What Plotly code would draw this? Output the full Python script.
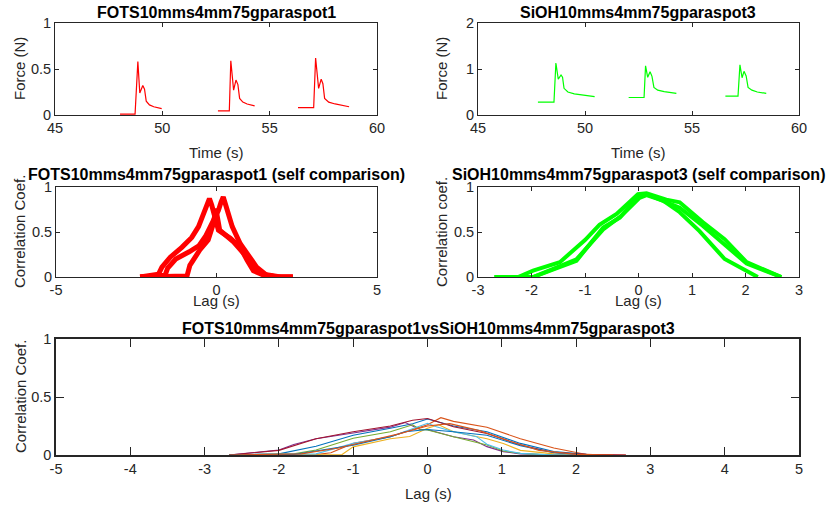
import plotly.graph_objects as go

W, H = 834, 510
FONT = "Liberation Sans, Arial, Helvetica, sans-serif"
TXT = "#262626"

# ---------------- data ----------------
# Top-left: FOTS force traces (three touches)
fots_t1 = [48.03, 48.73, 48.86, 48.95, 49.09, 49.17, 49.25, 49.40, 49.60, 49.80, 49.97]
fots_f1 = [0.01, 0.01, 0.58, 0.24, 0.32, 0.28, 0.15, 0.11, 0.09, 0.08, 0.07]
fots_t2 = [52.59, 53.12, 53.19, 53.32, 53.43, 53.52, 53.60, 53.75, 53.95, 54.15, 54.30]
fots_f2 = [0.045, 0.045, 0.59, 0.27, 0.38, 0.33, 0.18, 0.14, 0.12, 0.11, 0.10]
fots_t3 = [56.32, 57.05, 57.14, 57.28, 57.40, 57.48, 57.56, 57.75, 58.05, 58.40, 58.70]
fots_f3 = [0.08, 0.08, 0.62, 0.29, 0.39, 0.34, 0.18, 0.14, 0.12, 0.10, 0.09]

# Top-right: SiOH force traces
sioh_t1 = [47.80, 48.55, 48.64, 48.75, 48.88, 48.95, 49.02, 49.20, 49.50, 50.00, 50.45]
sioh_f1 = [0.28, 0.28, 1.13, 0.78, 0.87, 0.82, 0.58, 0.50, 0.46, 0.42, 0.40]
sioh_t2 = [52.04, 52.76, 52.83, 52.93, 53.04, 53.13, 53.22, 53.40, 53.70, 54.00, 54.27]
sioh_f2 = [0.38, 0.38, 1.07, 0.82, 0.94, 0.84, 0.60, 0.54, 0.51, 0.49, 0.47]
sioh_t3 = [56.56, 57.15, 57.24, 57.34, 57.43, 57.53, 57.62, 57.80, 58.05, 58.30, 58.47]
sioh_f3 = [0.41, 0.41, 1.09, 0.81, 0.95, 0.85, 0.60, 0.54, 0.50, 0.48, 0.47]

# Middle-left: FOTS self comparison
fs_lagA = [-2.38, -1.81, -1.70, -1.44, -1.08, -0.77, -0.56, -0.41, -0.30, -0.22, -0.15, -0.04, 0.06, 0.43, 0.74, 0.95, 1.15, 1.47, 1.88, 2.38]
fs_corA = [0.0, 0.03, 0.11, 0.22, 0.33, 0.44, 0.56, 0.70, 0.81, 0.87, 0.80, 0.63, 0.52, 0.43, 0.33, 0.19, 0.07, 0.02, 0.0, 0.0]
fs_lagB = [-2.38, -1.60, -1.52, -1.27, -0.85, -0.54, -0.33, -0.16, -0.04, 0.06, 0.14, 0.21, 0.27, 0.34, 0.49, 0.74, 1.05, 1.25, 1.56, 1.90, 2.38]
fs_corB = [0.0, 0.02, 0.10, 0.20, 0.28, 0.35, 0.46, 0.58, 0.66, 0.74, 0.83, 0.89, 0.82, 0.72, 0.56, 0.37, 0.22, 0.11, 0.02, 0.0, 0.0]
fs_lagC = [-2.38, -1.20, -0.92, -0.83, -0.52, -0.26, -0.10, -0.02, 0.10, 0.53, 0.85, 1.15, 1.46, 2.00, 2.38]
fs_corC = [0.0, 0.005, 0.01, 0.13, 0.30, 0.41, 0.59, 0.76, 0.52, 0.39, 0.26, 0.11, 0.03, 0.0, 0.0]

# Middle-right: SiOH self comparison
ss_lag1 = [-2.69, -2.25, -1.97, -1.47, -1.00, -0.73, -0.41, -0.01, 0.15, 0.52, 0.77, 1.20, 1.61, 2.02, 2.67]
ss_cor1 = [0.0, 0.0, 0.07, 0.165, 0.41, 0.58, 0.70, 0.92, 0.93, 0.86, 0.83, 0.61, 0.42, 0.165, 0.0]
ss_lag2 = [-2.69, -1.97, -1.16, -0.66, -0.32, 0.02, 0.15, 0.46, 0.77, 1.14, 1.61, 2.23]
ss_cor2 = [0.0, 0.0, 0.195, 0.53, 0.68, 0.88, 0.91, 0.85, 0.72, 0.51, 0.20, 0.0]
ss_lag3 = [-2.69, -1.97, -1.16, -0.66, -0.35, 0.00, 0.15, 0.50, 0.77, 1.20, 2.02, 2.67]
ss_cor3 = [0.0, 0.0, 0.18, 0.55, 0.66, 0.90, 0.92, 0.84, 0.77, 0.57, 0.15, 0.0]

# Bottom: FOTS vs SiOH cross comparison (9 curves)
cross_lags = [
    [-2.67, -2.0, -1.5, -1.0, -0.5, -0.2, 0.0, 0.35, 0.8, 1.25, 1.7, 2.14, 2.4],
    [-2.67, -1.5, -1.3, -1.0, -0.5, 0.0, 0.18, 0.35, 0.8, 1.25, 1.7, 2.14, 2.4, 2.67],
    [-2.67, -1.15, -1.0, -0.5, -0.24, 0.0, 0.15, 0.35, 0.8, 1.02, 1.25, 1.7, 2.1],
    [-2.67, -2.0, -1.8, -1.5, -1.0, -0.5, -0.3, -0.2, -0.1, 0.0, 0.35, 0.62, 0.8, 1.02, 1.25, 1.7, 2.0],
    [-2.67, -1.8, -1.5, -1.0, -0.5, -0.2, -0.1, 0.0, 0.35, 0.8, 1.02, 1.25, 1.7, 2.2],
    [-2.67, -1.5, -1.0, -0.5, 0.0, 0.12, 0.35, 0.66, 0.8, 1.02, 1.25, 1.7, 2.0],
    [-2.67, -2.0, -1.5, -1.0, -0.5, -0.2, 0.0, 0.35, 0.8, 1.25, 1.7, 2.14, 2.67],
    [-2.67, -1.8, -1.0, -0.5, -0.3, 0.0, 0.35, 0.8, 1.25, 1.7, 2.2],
    [-2.67, -1.7, -1.2, -0.8, -0.4, 0.0, 0.3, 0.7, 1.1, 1.5, 2.0, 2.5],
]
cross_cors = [
    [0.0, 0.01, 0.075, 0.17, 0.23, 0.27, 0.31, 0.25, 0.20, 0.10, 0.03, 0.005, 0.0],
    [0.0, 0.003, 0.02, 0.10, 0.158, 0.26, 0.322, 0.29, 0.24, 0.14, 0.06, 0.005, 0.0, 0.0],
    [0.0, 0.004, 0.07, 0.14, 0.16, 0.23, 0.26, 0.20, 0.14, 0.10, 0.04, 0.01, 0.0],
    [0.0, 0.043, 0.09, 0.14, 0.19, 0.24, 0.28, 0.25, 0.22, 0.22, 0.158, 0.13, 0.072, 0.029, 0.01, 0.0, 0.0],
    [0.0, 0.01, 0.043, 0.144, 0.20, 0.26, 0.22, 0.216, 0.158, 0.086, 0.034, 0.014, 0.0, 0.0],
    [0.0, 0.01, 0.10, 0.158, 0.273, 0.244, 0.20, 0.158, 0.093, 0.043, 0.014, 0.0, 0.0],
    [0.0, 0.04, 0.14, 0.20, 0.25, 0.30, 0.315, 0.244, 0.186, 0.086, 0.022, 0.005, 0.0],
    [0.0, 0.005, 0.085, 0.158, 0.20, 0.22, 0.20, 0.17, 0.08, 0.02, 0.0],
    [0.0, 0.01, 0.06, 0.12, 0.18, 0.25, 0.27, 0.21, 0.12, 0.04, 0.005, 0.0],
]
cross_colors = ["#0072BD", "#D95319", "#EDB120", "#7E2F8E", "#77AC30",
                "#4DBEEE", "#A2142F", "#0072BD", "#D95319"]

# tick labels
time_ticks = [45, 50, 55, 60]
force1_ticks = [0, 0.5, 1]
force2_ticks = [0, 1, 2]
corr_ticks = [0, 0.5, 1]
lag5_short = [-5, 0, 5]
lag3_ticks = [-3, -2, -1, 0, 1, 2, 3]
lag5_ticks = [-5, -4, -3, -2, -1, 0, 1, 2, 3, 4, 5]

titles = ["FOTS10mms4mm75gparaspot1", "SiOH10mms4mm75gparaspot3",
          "FOTS10mms4mm75gparaspot1 (self comparison)",
          "SiOH10mms4mm75gparaspot3 (self comparison)",
          "FOTS10mms4mm75gparaspot1vsSiOH10mms4mm75gparaspot3"]

# ---------------- figure ----------------
fig = go.Figure()
RED = "#FF0000"
GREEN = "#00FF00"

for t, f in [(fots_t1, fots_f1), (fots_t2, fots_f2), (fots_t3, fots_f3)]:
    fig.add_trace(go.Scatter(x=t, y=f, mode="lines", line=dict(color=RED, width=1.2),
                             xaxis="x", yaxis="y", showlegend=False))
for t, f in [(sioh_t1, sioh_f1), (sioh_t2, sioh_f2), (sioh_t3, sioh_f3)]:
    fig.add_trace(go.Scatter(x=t, y=f, mode="lines", line=dict(color=GREEN, width=1.2),
                             xaxis="x2", yaxis="y2", showlegend=False))
for l, c in [(fs_lagA, fs_corA), (fs_lagB, fs_corB), (fs_lagC, fs_corC)]:
    fig.add_trace(go.Scatter(x=l, y=c, mode="lines",
                             line=dict(color=RED, width=5),
                             xaxis="x3", yaxis="y3", showlegend=False))
for l, c in [(ss_lag1, ss_cor1), (ss_lag2, ss_cor2), (ss_lag3, ss_cor3)]:
    fig.add_trace(go.Scatter(x=l, y=c, mode="lines", line=dict(color=GREEN, width=4),
                             xaxis="x4", yaxis="y4", showlegend=False))
for l, c, col in zip(cross_lags, cross_cors, cross_colors):
    fig.add_trace(go.Scatter(x=l, y=c, mode="lines", line=dict(color=col, width=1.1),
                             xaxis="x5", yaxis="y5", showlegend=False))


def px_x(p):
    return p / W


def px_y(p):
    return 1 - p / H


def ax(domain, rng, ticks, anchor, ticklen=4, lw=1):
    return dict(domain=domain, range=rng, tickvals=ticks,
                ticktext=[("%g" % v) for v in ticks],
                anchor=anchor, showgrid=False, zeroline=False, automargin=False,
                showline=True, linecolor=TXT, linewidth=lw, mirror="allticks",
                ticks="inside", ticklen=ticklen, tickcolor=TXT, tickwidth=1,
                tickfont=dict(family=FONT, size=14.5, color=TXT), fixedrange=True)


# pixel boxes: (left, right, top, bottom)
boxes = [(55, 377, 23, 115), (478, 799, 23, 115), (56, 377, 187, 277),
         (478, 799, 187, 277), (56, 799, 339, 455)]
xd = [[px_x(b[0]), px_x(b[1])] for b in boxes]
yd = [[px_y(b[3]), px_y(b[2])] for b in boxes]

fig.update_layout(
    width=W, height=H, margin=dict(l=0, r=0, t=0, b=0, pad=0, autoexpand=False),
    paper_bgcolor="white", plot_bgcolor="white", showlegend=False,
    xaxis=ax(xd[0], [45, 60], time_ticks, "y"),
    yaxis=ax(yd[0], [0, 1], force1_ticks, "x"),
    xaxis2=ax(xd[1], [45, 60], time_ticks, "y2"),
    yaxis2=ax(yd[1], [0, 2], force2_ticks, "x2"),
    xaxis3=ax(xd[2], [-5, 5], lag5_short, "y3"),
    yaxis3=ax(yd[2], [0, 1], corr_ticks, "x3"),
    xaxis4=ax(xd[3], [-3, 3], lag3_ticks, "y4"),
    yaxis4=ax(yd[3], [0, 1], corr_ticks, "x4"),
    xaxis5=ax(xd[4], [-5, 5], lag5_ticks, "y5", ticklen=8, lw=1.5),
    yaxis5=ax(yd[4], [0, 1], corr_ticks, "x5", ticklen=8, lw=1.5),
)

anns = []
# titles
title_pos = [(216, 12), (638, 12), (216, 174), (638, 174), (428, 328)]
for txt, (x, y) in zip(titles, title_pos):
    anns.append(dict(text="<b>%s</b>" % txt, x=px_x(x), y=px_y(y), xref="paper", yref="paper",
                     xanchor="center", yanchor="middle", showarrow=False,
                     font=dict(family=FONT, size=16, color="#000000")))
# x labels
for txt, (x, y) in [("Time (s)", (216, 152)), ("Time (s)", (638, 152)),
                    ("Lag (s)", (216, 300)), ("Lag (s)", (638, 300)),
                    ("Lag (s)", (428, 493))]:
    anns.append(dict(text=txt, x=px_x(x), y=px_y(y), xref="paper", yref="paper",
                     xanchor="center", yanchor="middle", showarrow=False,
                     font=dict(family=FONT, size=15, color=TXT)))
# y labels
for txt, (x, y) in [("Force (N)", (20, 69)), ("Force (N)", (442, 69)),
                    ("Correlation Coef.", (20, 232)), ("Correlation coef.", (442, 232)),
                    ("Correlation Coef.", (20, 397))]:
    anns.append(dict(text=txt, x=px_x(x), y=px_y(y), xref="paper", yref="paper",
                     xanchor="center", yanchor="middle", showarrow=False, textangle=-90,
                     font=dict(family=FONT, size=15, color=TXT)))
fig.update_layout(annotations=anns)

fig.write_html("out.html", config={"displayModeBar": False},
               post_script="document.body.style.margin='0px';document.body.style.overflow='hidden';")
